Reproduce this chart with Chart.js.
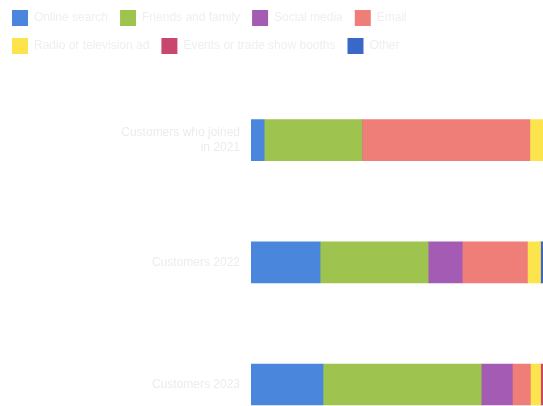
<!DOCTYPE html>
<html>
<head>
<meta charset="utf-8">
<script src="https://cdn.jsdelivr.net/npm/chart.js@4/dist/chart.umd.min.js"></script>
<style>
  html, body { margin: 0; padding: 0; background: #ffffff; overflow: hidden; width: 543px; height: 406px; }
  #wrap { position: absolute; left: 0; top: 0; width: 543px; height: 471px; }
</style>
</head>
<body>
<div id="wrap"><canvas id="c" width="543" height="471"></canvas></div>
<script>
// Categories (y axis), top to bottom
const categories = [["Customers who joined", "in 2021"], "Customers 2022", "Customers 2023"];

// Series names (legend)
const seriesNames = ["Online search", "Friends and family", "Social media", "Email",
                     "Radio or television ad", "Events or trade show booths", "Other"];

// Series values (percent of each category)
const onlineSearch   = [2.7, 14.2, 14.8];
const friendsFamily  = [20.1, 22.2, 32.5];
const socialMedia    = [0.0, 7.0, 6.4];
const email          = [34.5, 13.4, 3.7];
const radioTv        = [3.0, 2.7, 2.1];
const eventBooth     = [9.0, 0.0, 5.0];
const other          = [30.7, 40.5, 35.5];

// Visible part of the value axis
const xMin = 0;
const xMax = 60;

const colors = ["#4a87dc", "#9ec44f", "#a35bb4", "#ef7d78", "#fbe44c", "#c8476f", "#3a68c9"];
const seriesValues = [onlineSearch, friendsFamily, socialMedia, email, radioTv, eventBooth, other];

const legendGap = {
  id: 'legendGap',
  beforeInit(chart) {
    const fit = chart.legend.fit;
    chart.legend.fit = function () {
      fit.bind(chart.legend)();
      this.height += 15;
    };
  }
};

new Chart(document.getElementById('c'), {
  type: 'bar',
  data: {
    labels: categories,
    datasets: seriesNames.map((name, i) => ({
      label: name,
      data: seriesValues[i],
      backgroundColor: colors[i],
      borderWidth: 0,
      barThickness: 41
    }))
  },
  options: {
    indexAxis: 'y',
    responsive: false,
    animation: false,
    layout: { padding: { top: -2, left: 0, right: 0, bottom: 0 } },
    plugins: {
      legend: {
        position: 'top',
        align: 'start',
        labels: {
          boxWidth: 16,
          boxHeight: 16,
          padding: 12,
          color: '#efefef',
          font: { family: 'Liberation Sans', size: 12 }
        }
      },
      tooltip: { enabled: false }
    },
    scales: {
      x: {
        stacked: true,
        min: xMin,
        max: xMax,
        display: false
      },
      y: {
        stacked: true,
        grid: { display: false, drawTicks: false },
        border: { display: false },
        ticks: {
          padding: 11,
          color: '#ececec',
          font: { family: 'Liberation Sans', size: 12 }
        },
        afterFit(scale) { scale.width = 251; }
      }
    }
  },
  plugins: [legendGap]
});
</script>
</body>
</html>
